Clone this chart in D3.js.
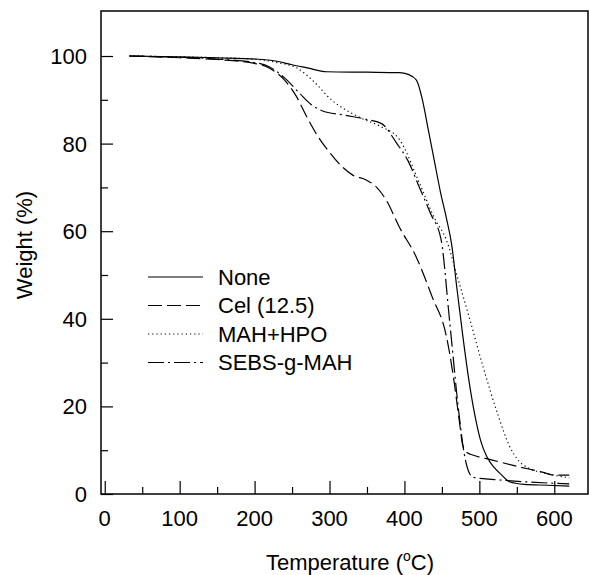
<!DOCTYPE html>
<html lang="en">
<head>
    <meta charset="UTF-8">
    <title>TGA curves</title>
    <script src="https://d3js.org/d3.v7.min.js"></script>
    <style>
        body {
            margin: 0;
            background-color: white;
        }
        svg {
            display: block;
            font-family: "Liberation Sans", Arial, sans-serif;
        }
    </style>
</head>
<body>

<svg id="chart" width="589" height="575"></svg>
<script>
    // temperature (°C) / weight (%)
    const tempNone   = [33, 100, 150, 210, 230, 250, 270, 296, 350, 393, 405, 416, 424, 432, 440, 448, 456, 463, 470, 478, 486, 494, 502, 510, 520, 530, 540, 560, 590, 620];
    const weightNone = [100, 99.8, 99.6, 99.2, 98.8, 98, 97.3, 96.4, 96.3, 96.2, 95.8, 94.5, 90, 83, 76, 69, 63, 57, 47, 36, 26, 18, 12, 8.5, 6, 4.3, 2.8, 2.2, 2.0, 1.8];

    const tempCel   = [33, 100, 150, 200, 220, 240, 255, 270, 285, 300, 317, 331, 349, 363, 376, 393, 416, 437, 456, 466, 473, 478, 484, 491, 516, 553, 584, 600, 620];
    const weightCel = [100, 99.6, 99.2, 98.3, 97.2, 94.5, 91, 86, 81.5, 78, 74.7, 72.8, 71.7, 70, 67, 61, 54, 45, 36, 26, 17, 11, 9.4, 8.9, 7.8, 6.2, 5.0, 4.3, 4.3];

    const tempMah   = [33, 100, 150, 200, 230, 256, 280, 300, 340, 367, 393, 420, 440, 456, 470, 487, 505, 525, 540, 553, 567, 587, 620];
    const weightMah = [100, 99.8, 99.6, 99.3, 98.5, 97.3, 94, 90.4, 86, 84, 81, 71, 63, 58, 50, 40, 29, 18, 11, 7.5, 5.8, 4.8, 3.7];

    const tempSebs   = [33, 100, 150, 200, 220, 240, 260, 275, 290, 320, 350, 370, 390, 405, 420, 435, 449, 460, 473, 480, 486, 492, 520, 560, 620];
    const weightSebs = [100, 99.7, 99.3, 98.5, 97.5, 95, 91.5, 89, 87.5, 86.5, 85.5, 84.5, 80, 76, 70, 64, 58, 40, 18, 9, 5, 3.8, 3.3, 2.8, 2.3];

    const seriesNames = ["None", "Cel (12.5)", "MAH+HPO", "SEBS-g-MAH"];
    const xTicks = [0, 100, 200, 300, 400, 500, 600];
    const yTicks = [0, 20, 40, 60, 80, 100];

    const series = [
        {name: seriesNames[0], t: tempNone, w: weightNone, dash: null},
        {name: seriesNames[1], t: tempCel, w: weightCel, dash: "14,5"},
        {name: seriesNames[2], t: tempMah, w: weightMah, dash: "1.2,3"},
        {name: seriesNames[3], t: tempSebs, w: weightSebs, dash: "16,4,2,4"}
    ];

    const box = {left: 101, right: 588, top: 11, bottom: 494};

    const x = d3.scaleLinear().domain([-5, 645]).range([box.left, box.right]);
    const y = d3.scaleLinear().domain([0, (box.bottom - box.top) / 4.38]).range([box.bottom, box.top]);

    const svg = d3.select("#chart");

    // frame
    svg.append("rect")
        .attr("x", box.left).attr("y", box.top)
        .attr("width", box.right - box.left).attr("height", box.bottom - box.top)
        .attr("fill", "none").attr("stroke", "black").attr("stroke-width", 1.5);

    // ticks pointing inward
    const xAxis = svg.append("g")
        .attr("transform", `translate(0,${box.bottom})`)
        .call(d3.axisTop(x).tickValues(d3.range(0, 650, 50)).tickSize(7).tickFormat(""));
    xAxis.selectAll(".tick line").filter(d => d % 100 === 0).attr("y2", -13);
    xAxis.select(".domain").remove();

    const yAxis = svg.append("g")
        .attr("transform", `translate(${box.left},0)`)
        .call(d3.axisRight(y).tickValues(d3.range(0, 110, 10)).tickSize(7).tickFormat(""));
    yAxis.selectAll(".tick line").filter(d => d % 20 === 0).attr("x2", 12);
    yAxis.select(".domain").remove();

    svg.selectAll("line").attr("stroke-width", 1.2);

    // tick labels
    svg.append("g").selectAll("text")
        .data(xTicks)
        .join("text")
        .attr("x", d => x(d))
        .attr("y", box.bottom + 32)
        .attr("text-anchor", "middle")
        .attr("font-size", 22)
        .text(d => d);

    svg.append("g").selectAll("text")
        .data(yTicks)
        .join("text")
        .attr("x", 87)
        .attr("y", d => y(d))
        .attr("dy", "0.36em")
        .attr("text-anchor", "end")
        .attr("font-size", 22)
        .text(d => d);

    // axis titles
    const xt = svg.append("text")
        .attr("x", 350)
        .attr("y", 570)
        .attr("text-anchor", "middle")
        .attr("font-size", 22);
    xt.append("tspan").text("Temperature (");
    xt.append("tspan").attr("font-size", 14).attr("dy", -9).text("o");
    xt.append("tspan").attr("dy", 9).text("C)");

    svg.append("text")
        .attr("transform", "translate(32,245) rotate(-90)")
        .attr("text-anchor", "middle")
        .attr("font-size", 22)
        .text("Weight (%)");

    // curves
    const line = d3.line()
        .x(d => x(d[0]))
        .y(d => y(d[1]))
        .curve(d3.curveMonotoneX);

    svg.append("g").selectAll("path")
        .data(series)
        .join("path")
        .attr("d", s => line(d3.zip(s.t, s.w)))
        .attr("fill", "none")
        .attr("stroke", "black")
        .attr("stroke-width", 1.2)
        .attr("stroke-dasharray", s => s.dash);

    // legend
    const legend = svg.append("g").selectAll("g")
        .data(series)
        .join("g")
        .attr("transform", (d, i) => `translate(148,${277 + i * 28.5})`);

    legend.append("line")
        .attr("x1", 0).attr("x2", 55)
        .attr("stroke", "black")
        .attr("stroke-width", 1.2)
        .attr("stroke-dasharray", d => d.dash);

    legend.append("text")
        .attr("x", 70)
        .attr("dy", "0.36em")
        .attr("font-size", 22)
        .text(d => d.name);
</script>
</body>
</html>
